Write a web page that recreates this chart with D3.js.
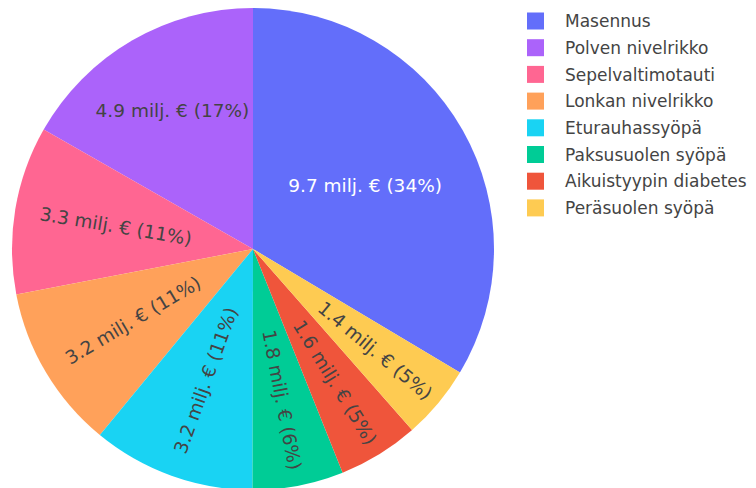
<!DOCTYPE html>
<html>
<head>
<meta charset="utf-8">
<script src="https://cdn.jsdelivr.net/npm/d3@7"></script>
<style>
  body { margin: 0; background: #fff; }
  svg { display: block; }
</style>
</head>
<body>
<div id="chart"></div>
<script>
// sairaudet, kustannukset milj. euroa
var categories = ["Masennus", "Polven nivelrikko", "Sepelvaltimotauti", "Lonkan nivelrikko",
  "Eturauhassyöpä", "Paksusuolen syöpä", "Aikuistyypin diabetes", "Peräsuolen syöpä"];
var costs = [9.74, 4.86, 3.27, 3.2, 3.17, 1.77, 1.57, 1.44];
var colors = ["#636efa", "#ab63fa", "#FF6692", "#FFA15A", "#19d3f3", "#00cc96", "#EF553B", "#FECB52"];
var unit = " milj. €";

var w = 756, h = 488;
var cx = 253, cy = 249, radius = 241;
var textPad = 3;

var svg = d3.select("#chart").append("svg")
  .attr("width", w)
  .attr("height", h);

var total = d3.sum(costs);
var firstAngle = 2 * Math.PI * costs[0] / total;

// first slice ends at 12 o'clock, rest go counterclockwise like plotly
var pie = d3.pie().sort(null)
  .startAngle(firstAngle)
  .endAngle(firstAngle - 2 * Math.PI);
var arc = d3.arc().innerRadius(0).outerRadius(radius);

var arcs = pie(costs);
var g = svg.append("g").attr("transform", "translate(" + cx + "," + cy + ")");

g.selectAll("path")
  .data(arcs)
  .enter()
  .append("path")
  .attr("d", arc)
  .attr("fill", function(d, i) { return colors[i]; });

var fmtVal = d3.format(".1f");
var fmtPct = d3.format(".0%");

function textColor(c) {
  var rgb = d3.rgb(c);
  var b = (rgb.r * 299 + rgb.g * 587 + rgb.b * 114) / 1000;
  return b >= 128 ? "#444" : "#fff";
}

function maxHalfSize(a, halfAngle, r) {
  var q = a + 1 / (2 * Math.tan(halfAngle));
  return r * Math.min(1 / (Math.sqrt(q * q + 0.5) + q), 1 / (Math.sqrt(a * a + 0.5) + a));
}

var labels = g.selectAll("text.slice")
  .data(arcs)
  .enter()
  .append("text")
  .attr("class", "slice")
  .attr("text-anchor", "middle")
  .attr("font-family", "'DejaVu Sans', Verdana, sans-serif")
  .attr("font-size", 18.5)
  .attr("fill", function(d, i) { return textColor(colors[i]); })
  .text(function(d) { return fmtVal(d.data) + unit + " (" + fmtPct(d.data / total) + ")"; });

labels.each(function(d) {
  var bb = this.getBBox();
  var mid = (d.startAngle + d.endAngle) / 2;
  var half = Math.abs(d.endAngle - d.startAngle) / 2;
  var mx = Math.sin(mid) * radius, my = -Math.cos(mid) * radius;
  var rIn = Math.min(1 / (1 + 1 / Math.sin(half)), 0.5);
  var diag = Math.sqrt(bb.width * bb.width + bb.height * bb.height);
  var rCenter, rot;
  if (rIn * radius * 2 / diag >= 1) {
    rCenter = 1 - rIn;
    rot = 0;
  } else {
    var r2 = radius - 2 * textPad;
    var a = bb.width / bb.height;
    var s = maxHalfSize(a, half, r2);
    rCenter = Math.cos(s / r2) - a * s / r2;
    var phi = mid * 180 / Math.PI - 90;
    rot = (((phi + 90) % 180) + 180) % 180 - 90;
  }
  var yOff = bb.y + bb.height / 2;
  d3.select(this).attr("transform",
    "translate(" + (mx * rCenter) + "," + (my * rCenter) + ") rotate(" + rot + ") translate(0," + (-yOff) + ")");
});

// legend
var legend = svg.append("g").attr("transform", "translate(527,21)");
var rowH = 26.7;
var items = legend.selectAll("g")
  .data(categories)
  .enter()
  .append("g")
  .attr("transform", function(d, i) { return "translate(0," + (i * rowH) + ")"; });

items.append("rect")
  .attr("x", 0)
  .attr("y", -8.5)
  .attr("width", 17)
  .attr("height", 17)
  .attr("fill", function(d, i) { return colors[i]; });

items.append("text")
  .attr("x", 38)
  .attr("dy", "0.36em")
  .attr("font-family", "'DejaVu Sans', Verdana, sans-serif")
  .attr("font-size", 17)
  .attr("fill", "#444")
  .text(function(d) { return d; });
</script>
</body>
</html>
